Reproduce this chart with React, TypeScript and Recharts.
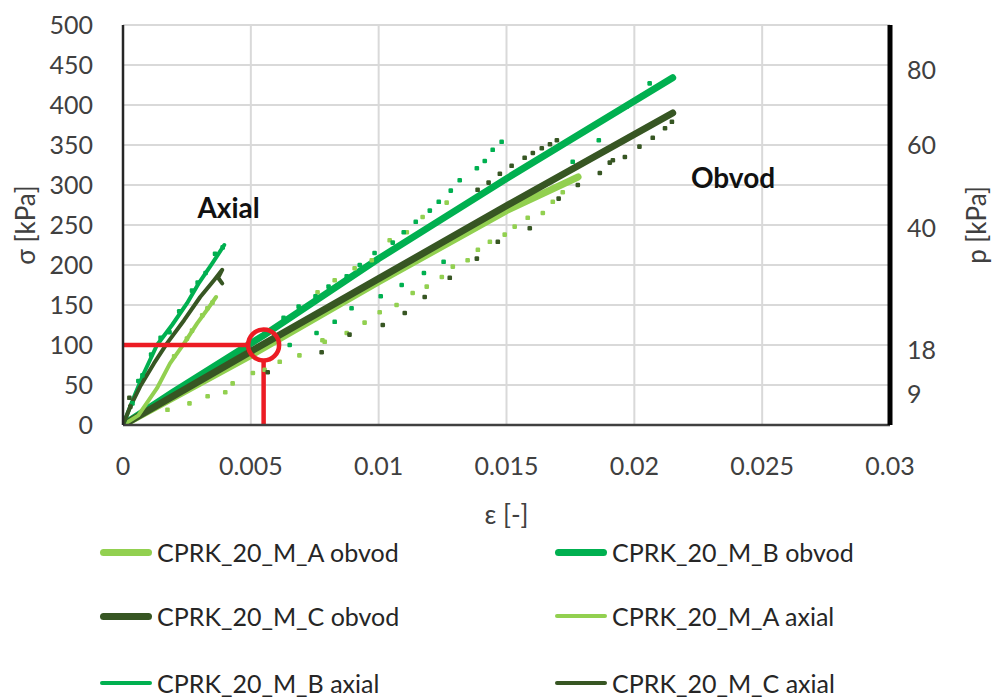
import React from 'react';
import {
  ComposedChart, Line, Scatter, XAxis, YAxis, CartesianGrid,
  ReferenceLine, ReferenceDot
} from 'recharts';

// axes
const strainTicks = [0, 0.005, 0.01, 0.015, 0.02, 0.025, 0.03];
const stressTicks = [0, 50, 100, 150, 200, 250, 300, 350, 400, 450, 500];
// right axis (p) labels sit at these sigma positions
const pTickPositions = [38, 94, 246, 350, 444];
const pTickLabels = ['9', '18', '40', '60', '80'];

// obvod (circumferential) curves: [strain, stress kPa]
const obvodA = [[0, 0], [0.005, 87], [0.01, 179], [0.015, 268], [0.0178, 310]];
const obvodB = [[0, 0], [0.002, 42], [0.0055, 112], [0.01, 208], [0.015, 308], [0.0215, 434]];
const obvodC = [[0, 0], [0.005, 92], [0.01, 183], [0.015, 274], [0.0215, 390]];

// axial curves
const axialA = [[0, 0], [0.0006, 12], [0.00133, 46], [0.00184, 77], [0.00239, 102], [0.0029, 127], [0.00329, 144], [0.00364, 160]];
const axialB = [[0, 0], [0.00043, 35], [0.00082, 65], [0.00133, 100], [0.00192, 125], [0.0025, 152], [0.00298, 178], [0.00349, 202], [0.00396, 225]];
const axialC = [[0, 0], [0.00027, 22], [0.00067, 48], [0.00121, 77], [0.00172, 102], [0.00239, 131], [0.00302, 160], [0.00356, 181], [0.00388, 194], [0.00372, 184], [0.00388, 177]];

// scattered readings
const dotsA = [
  [0.0172, 291], [0.01681, 279], [0.01642, 265], [0.01583, 259], [0.01532, 248], [0.01493, 238],
  [0.01435, 229], [0.01388, 219], [0.01348, 206], [0.0129, 198], [0.01247, 185], [0.01188, 173],
  [0.01133, 165], [0.0107, 150], [0.01004, 141], [0.00945, 128], [0.00875, 115], [0.00789, 104],
  [0.0078, 106], [0.0069, 87], [0.00613, 79], [0.00554, 69], [0.00508, 65], [0.00429, 52],
  [0.004, 41], [0.00331, 36], [0.0026, 27], [0.00174, 19], [0.01266, 278], [0.01172, 260],
  [0.0111, 241], [0.01043, 231], [0.00973, 206], [0.00906, 196], [0.00828, 181], [0.00761, 166],
  [0.002, 86], [0.0025, 108], [0.0031, 137], [0.0035, 153], [0.0027, 118], [0.0033, 146]
];
const dotsB = [
  [0.01481, 354], [0.01446, 344], [0.01415, 330], [0.01384, 321], [0.01317, 306], [0.01282, 293],
  [0.01235, 279], [0.012, 268], [0.01145, 254], [0.01098, 241], [0.01055, 228], [0.00984, 215],
  [0.00926, 200], [0.00875, 186], [0.00804, 173], [0.00753, 161], [0.00687, 148], [0.00628, 134],
  [0.01861, 356], [0.01759, 329], [0.01254, 204], [0.01177, 190], [0.0109, 175], [0.01008, 161],
  [0.00894, 146], [0.00828, 129], [0.00757, 115], [0.00652, 100], [0.0206, 427], [0.02033, 412],
  [0.0197, 398], [0.00147, 109], [0.00182, 116], [0.00292, 178], [0.00323, 190], [0.00076, 62],
  [0.00037, 27], [0.0006, 55], [0.0011, 88], [0.0022, 142], [0.0027, 168], [0.0036, 214], [0.0039, 222]
];
const dotsC = [
  [0.01697, 356], [0.0167, 351], [0.01638, 346], [0.01603, 340], [0.01571, 334], [0.0152, 324],
  [0.01474, 314], [0.0143, 303], [0.01387, 294], [0.01963, 335], [0.01904, 328], [0.01865, 315],
  [0.01779, 300], [0.01704, 283], [0.01591, 246], [0.01466, 229], [0.01384, 208], [0.01278, 184],
  [0.0118, 160], [0.01102, 140], [0.01016, 125], [0.00886, 113], [0.00777, 91], [0.00566, 66],
  [0.02147, 379], [0.0212, 371], [0.02072, 359], [0.0202, 348], [0.01916, 331], [0.00025, 34], [0.00029, 23]
];

// annotation
const markStrain = 0.0055;
const markStress = 100;

const LIGHT = '#92d050';
const MID = '#00b050';
const DARK = '#375623';
const RED = '#ec1c24';
const TXT = '#404040';
const FONT = 'Lato, "Liberation Sans", sans-serif';

const toPts = (arr: number[][]) => arr.map(([x, y]) => ({ x, y }));

const lines = [
  { name: 'CPRK_20_M_A obvod', data: obvodA, color: LIGHT, width: 7 },
  { name: 'CPRK_20_M_B obvod', data: obvodB, color: MID, width: 7 },
  { name: 'CPRK_20_M_C obvod', data: obvodC, color: DARK, width: 7 },
  { name: 'CPRK_20_M_A axial', data: axialA, color: LIGHT, width: 4 },
  { name: 'CPRK_20_M_B axial', data: axialB, color: MID, width: 4 },
  { name: 'CPRK_20_M_C axial', data: axialC, color: DARK, width: 4 },
];

const dots = [
  { data: dotsA, color: LIGHT },
  { data: dotsB, color: MID },
  { data: dotsC, color: DARK },
];

const Dot = (props: any) => {
  const { cx, cy, fill } = props;
  if (cx == null || cy == null) return null;
  return <rect x={cx - 2.3} y={cy - 2.3} width={4.6} height={4.6} rx={1.2} fill={fill} />;
};

const BoldText = (txt: string) => (props: any) => (
  <text x={props.cx} y={props.cy} dy="0.35em" textAnchor="middle"
    fontFamily={FONT} fontWeight={700} fontSize={28} fill="#111">{txt}</text>
);

const RotLabel = (txt: string, dx: number) => (props: any) => {
  const vb = props.viewBox;
  const cx = vb.x + dx;
  const cy = vb.y + vb.height / 2;
  return (
    <text x={cx} y={cy} transform={`rotate(-90 ${cx} ${cy})`} textAnchor="middle" dy="0.35em"
      fontFamily={FONT} fontSize={26} fill={TXT}>{txt}</text>
  );
};

const XLabel = (props: any) => {
  const vb = props.viewBox;
  return (
    <text x={vb.x + vb.width / 2} y={vb.y + 90} textAnchor="middle" dy="0.35em"
      fontFamily={FONT} fontSize={26} fill={TXT}>ε [-]</text>
  );
};

const legendRows = [552, 616, 683];
const legendCols = [100, 555];

export default function App() {
  const tick = { fill: TXT, fontSize: 25, fontFamily: FONT };
  return (
    <div style={{ position: 'absolute', left: 0, top: 0, width: 994, height: 698, background: '#fff', fontFamily: FONT }}>
      <ComposedChart width={994} height={530} margin={{ top: 25, right: 24, left: 63, bottom: 0 }}>
        <CartesianGrid stroke="#d9d9d9" strokeWidth={2} />
        <XAxis dataKey="x" type="number" domain={[0, 0.03]} ticks={strainTicks} allowDataOverflow
          tickFormatter={(v) => String(v)} tick={tick} tickSize={0} tickMargin={32} height={105}
          axisLine={{ stroke: '#404040', strokeWidth: 2.5 }} tickLine={false}
          label={<XLabel />} />
        <YAxis type="number" domain={[0, 500]} ticks={stressTicks} allowDataOverflow width={60}
          tick={tick} tickSize={0} tickMargin={30} tickLine={false}
          axisLine={{ stroke: '#262626', strokeWidth: 2.5 }}
          label={{ content: RotLabel('σ [kPa]', -37) }} />
        <YAxis yAxisId="right" orientation="right" type="number" domain={[0, 500]} allowDataOverflow
          ticks={pTickPositions} tickFormatter={(v) => pTickLabels[pTickPositions.indexOf(v)] ?? ''}
          width={80} tick={tick} tickSize={0} tickMargin={17} tickLine={false}
          axisLine={{ stroke: '#000', strokeWidth: 5 }}
          label={{ content: RotLabel('p [kPa]', 87) }} />

        {dots.map((d, i) => (
          <Scatter key={'d' + i} data={toPts(d.data)} dataKey="y" fill={d.color}
            shape={<Dot />} legendType="none" isAnimationActive={false} />
        ))}

        {lines.map((s) => (
          <Line key={s.name} name={s.name} data={toPts(s.data)} dataKey="y" type="linear"
            stroke={s.color} strokeWidth={s.width} dot={false} activeDot={false}
            strokeLinecap="round" strokeLinejoin="round" isAnimationActive={false} />
        ))}

        <ReferenceLine segment={[{ x: 0, y: markStress }, { x: markStrain - 15.5 / 25550, y: markStress }]}
          stroke={RED} strokeWidth={4.5} />
        <ReferenceLine segment={[{ x: markStrain, y: 0 }, { x: markStrain, y: markStress - 15.5 / 0.8 }]}
          stroke={RED} strokeWidth={4.5} />
        <ReferenceDot x={markStrain} y={markStress} r={15.5} fill="none" stroke={RED} strokeWidth={4.5} />

        <ReferenceDot x={0.00413} y={271} r={0} shape={BoldText('Axial')} />
        <ReferenceDot x={0.02386} y={309} r={0} shape={BoldText('Obvod')} />
      </ComposedChart>

      {lines.map((s, i) => {
        const top = legendRows[Math.floor(i / 2)];
        const left = legendCols[i % 2];
        return (
          <div key={s.name} style={{ position: 'absolute', left, top: top - 20, height: 40, display: 'flex', alignItems: 'center' }}>
            <div style={{ width: 52, height: s.width, borderRadius: 4, background: s.color, marginRight: 5 }} />
            <span style={{ fontSize: 25, color: '#262626', whiteSpace: 'nowrap' }}>{s.name}</span>
          </div>
        );
      })}
    </div>
  );
}
